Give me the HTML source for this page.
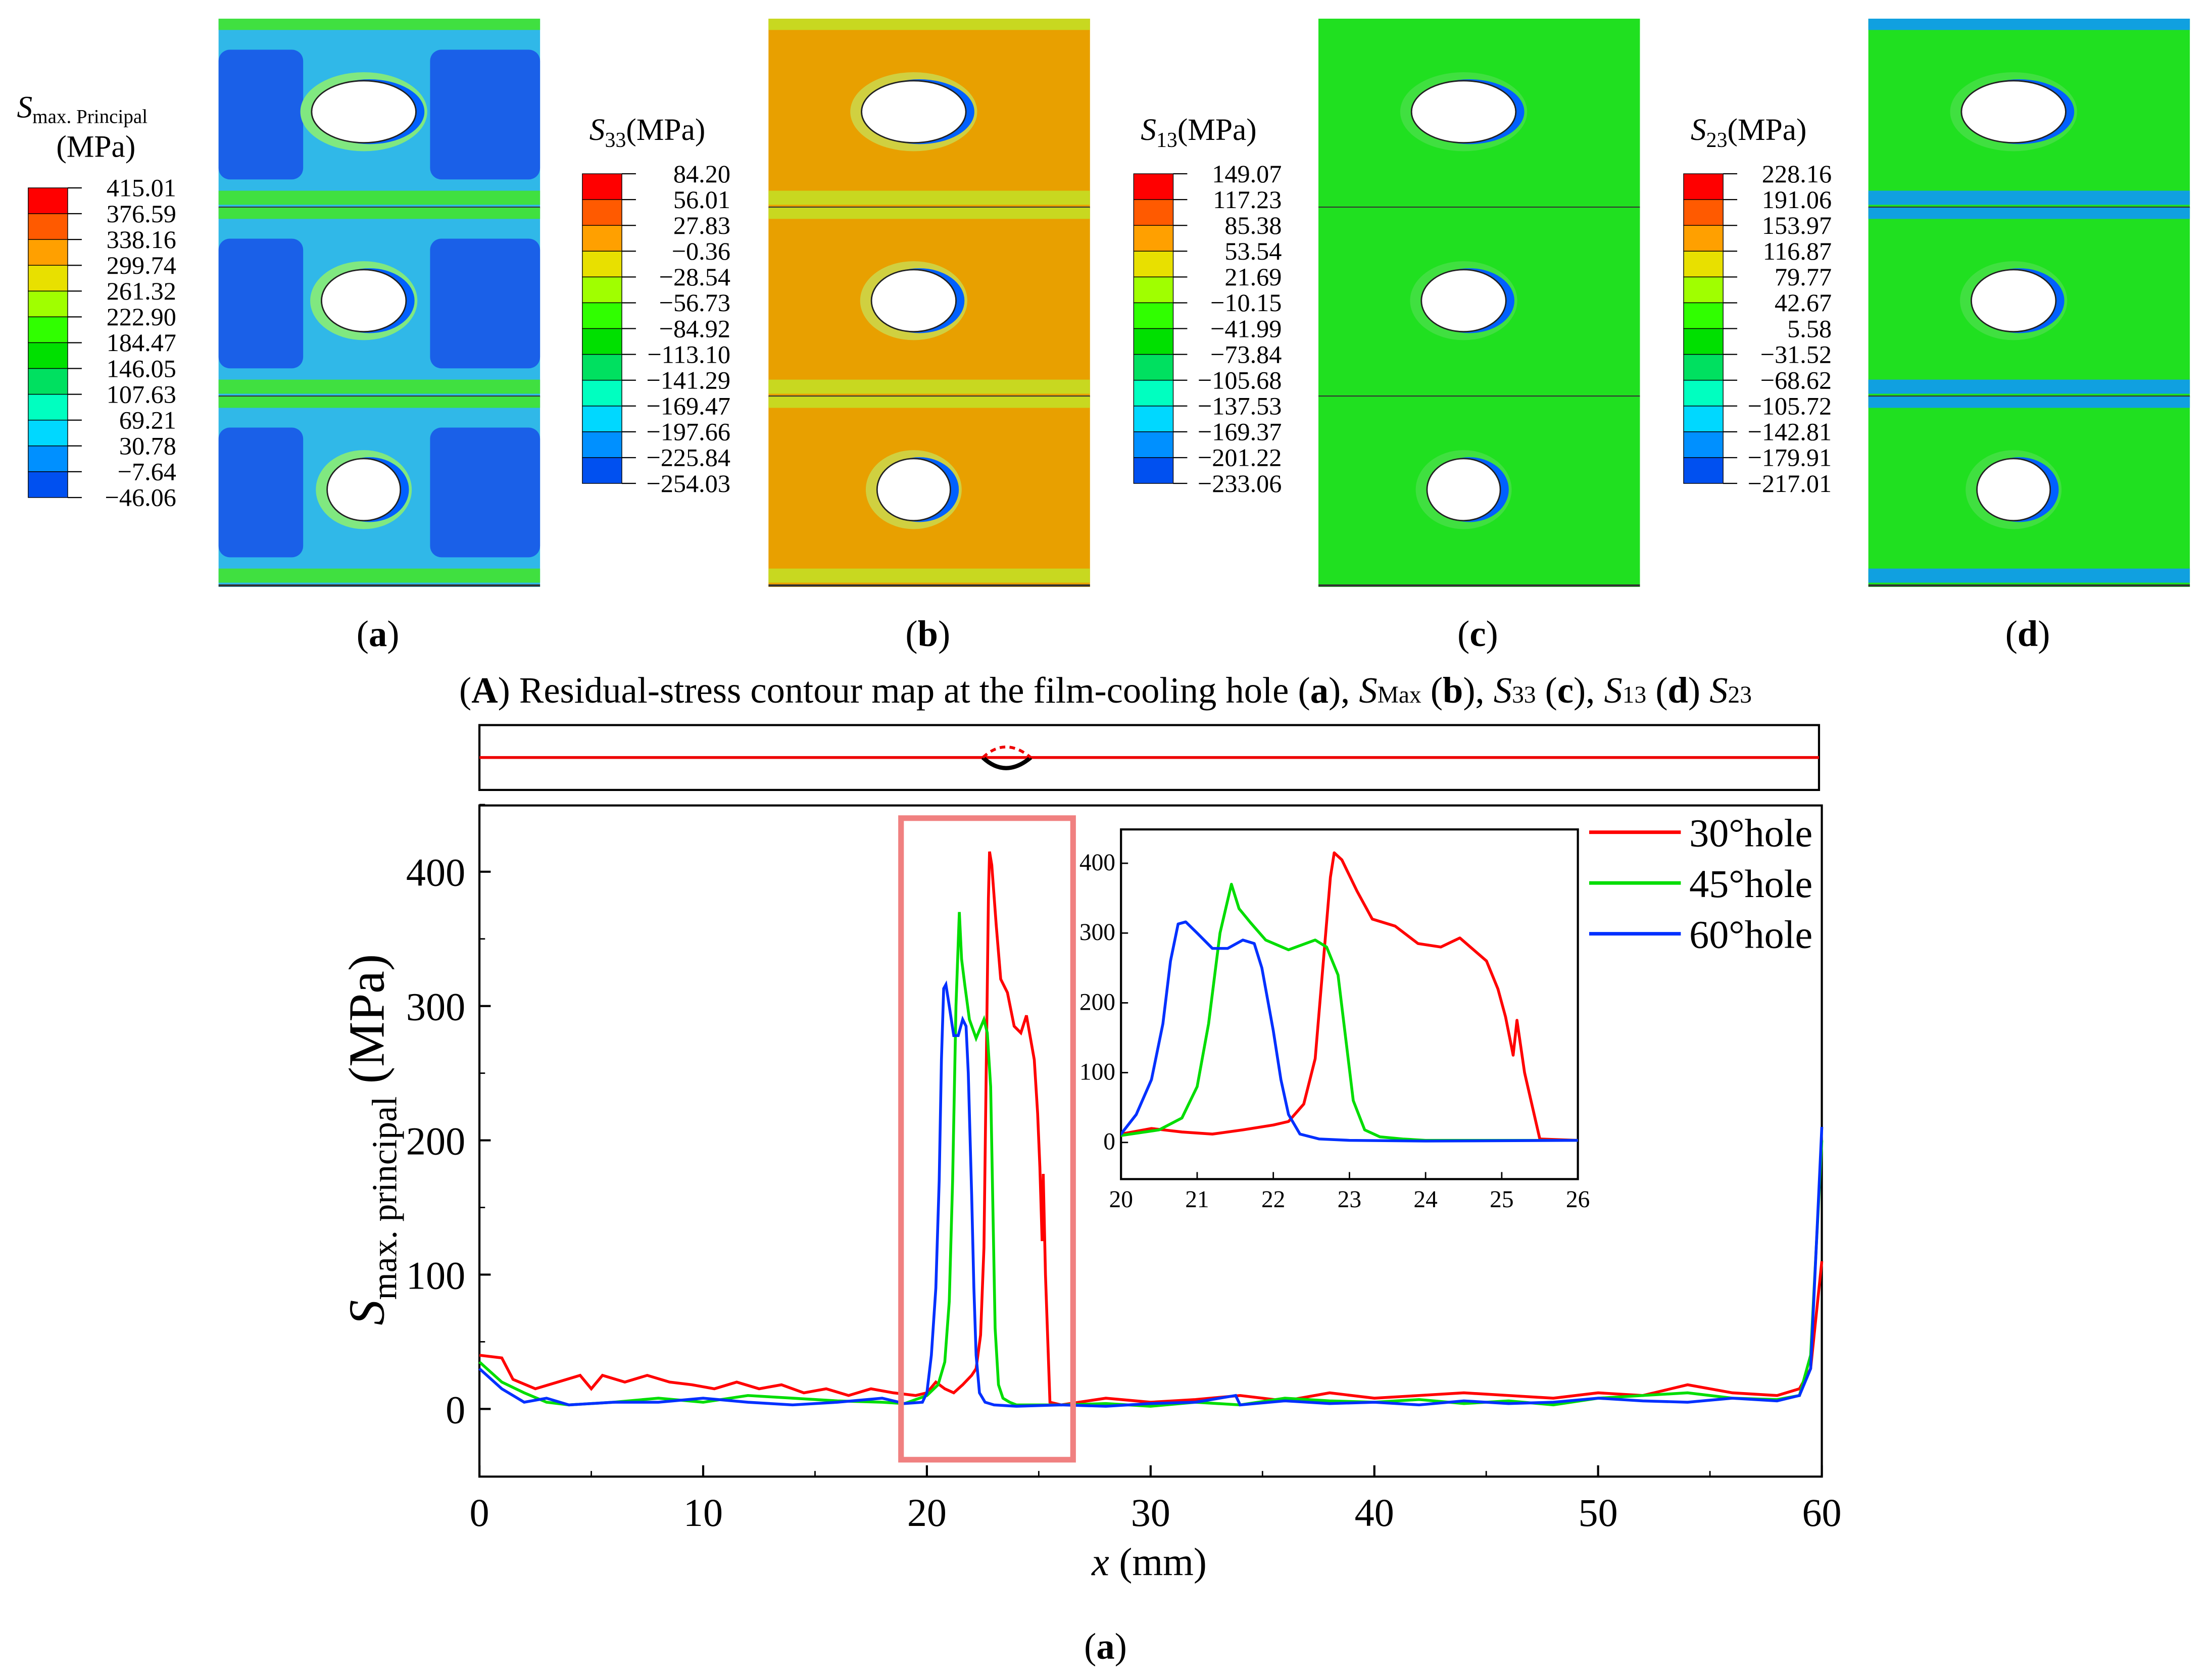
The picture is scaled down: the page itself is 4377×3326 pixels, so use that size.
<!DOCTYPE html>
<html><head><meta charset="utf-8"><style>
html,body{margin:0;padding:0;background:#fff}
svg{display:block}
text{font-family:"Liberation Serif",serif;fill:#000}
</style></head><body>
<svg id="root" width="4377" height="3326" viewBox="0 0 1568 1191" xmlns="http://www.w3.org/2000/svg">
<g id="contours"></g>
<g font-size="26" text-anchor="middle">
<text x="268" y="458">(<tspan font-weight="bold">a</tspan>)</text>
<text x="658" y="458">(<tspan font-weight="bold">b</tspan>)</text>
<text x="1048" y="458">(<tspan font-weight="bold">c</tspan>)</text>
<text x="1438" y="458">(<tspan font-weight="bold">d</tspan>)</text>
</g>
<text x="784" y="498" font-size="26" text-anchor="middle">(<tspan font-weight="bold">A</tspan>) Residual-stress contour map at the film-cooling hole (<tspan font-weight="bold">a</tspan>), <tspan font-style="italic">S</tspan><tspan font-size="17">Max</tspan> (<tspan font-weight="bold">b</tspan>), <tspan font-style="italic">S</tspan><tspan font-size="17">33</tspan> (<tspan font-weight="bold">c</tspan>), <tspan font-style="italic">S</tspan><tspan font-size="17">13</tspan> (<tspan font-weight="bold">d</tspan>) <tspan font-style="italic">S</tspan><tspan font-size="17">23</tspan></text>
<g>
<rect x="340" y="514" width="950" height="46" fill="none" stroke="#000" stroke-width="1.5"/>
<line x1="340" y1="537" x2="1290" y2="537" stroke="#e00" stroke-width="2"/>
<path d="M697 537 Q713 552 731 537" fill="none" stroke="#000" stroke-width="3"/>
<path d="M697 537 Q713 522 731 537" fill="none" stroke="#e00" stroke-width="2" stroke-dasharray="4,3"/>
</g>
<g id="main"></g>
<g id="inset"></g>
<text x="784" y="1176" font-size="26" text-anchor="middle">(<tspan font-weight="bold">a</tspan>)</text>
</svg>
<script>
const NS='http://www.w3.org/2000/svg';
function mk(p,t,a){const e=document.createElementNS(NS,t);for(const k in a)e.setAttribute(k,a[k]);p.appendChild(e);return e;}

const legendA=['415.01','376.59','338.16','299.74','261.32','222.90','184.47','146.05','107.63','69.21','30.78','\u22127.64','\u221246.06'];
const legendB=['84.20','56.01','27.83','\u22120.36','\u221228.54','\u221256.73','\u221284.92','\u2212113.10','\u2212141.29','\u2212169.47','\u2212197.66','\u2212225.84','\u2212254.03'];
const legendC=['149.07','117.23','85.38','53.54','21.69','\u221210.15','\u221241.99','\u221273.84','\u2212105.68','\u2212137.53','\u2212169.37','\u2212201.22','\u2212233.06'];
const legendD=['228.16','191.06','153.97','116.87','79.77','42.67','5.58','\u221231.52','\u221268.62','\u2212105.72','\u2212142.81','\u2212179.91','\u2212217.01'];
const cmap=['#ff0000','#ff5a00','#ffa000','#e8e000','#a0ff00','#30ff00','#00e000','#00e060','#00ffc0','#00d8ff','#0090ff','#0050f0','#0000ff'];
const cg=document.getElementById('contours');
function legend(x0,y0,vals,name,title){
  const g=mk(cg,'g',{});
  
  
  const h=18.3;
  for(let i=0;i<12;i++){mk(g,'rect',{x:x0,y:y0+i*h,width:28,height:h,fill:cmap[i],stroke:'#000','stroke-width':0.5});}
  vals.forEach((v,i)=>{mk(g,'line',{x1:x0+28,y1:y0+i*h,x2:x0+38,y2:y0+i*h,stroke:'#000','stroke-width':0.8});
    const t=mk(g,'text',{x:x0+105,y:y0+i*h+6,'font-size':18,'text-anchor':'end'});t.textContent=v;});
  if(title==='max'){const tt=mk(g,'text',{x:x0-8,y:y0-50,'font-size':22});tt.innerHTML='<tspan font-style="italic">S</tspan><tspan font-size="14" dy="4">max. Principal</tspan>';
    const t2=mk(g,'text',{x:x0+48,y:y0-22,'font-size':22,'text-anchor':'middle'});t2.textContent='(MPa)';}
  else {const tt=mk(g,'text',{x:x0+5,y:y0-24,'font-size':22});tt.innerHTML='<tspan font-style="italic">S</tspan><tspan font-size="15" dy="5">'+title+'</tspan><tspan dy="-5">(MPa)</tspan>';}
}
legend(20,133,legendA,'legend-smax','max');
legend(413,123,legendB,'legend-s33','33');
legend(804,123,legendC,'legend-s13','13');
legend(1194,123,legendD,'legend-s23','23');

function panel(x,name,bg,dark,band,holeRing){
  const g=mk(cg,'g',{});
  
  
  mk(g,'rect',{x:x,y:13,width:228,height:403,fill:bg});
  const rows=[13,147,281];const hrx=[37,30,26];
  rows.forEach((ry,i)=>{
    if(dark){mk(g,'rect',{x:x,y:ry+22,width:60,height:92,fill:dark,rx:8});mk(g,'rect',{x:x+150,y:ry+22,width:78,height:92,fill:dark,rx:8});}
    mk(g,'rect',{x:x,y:ry,width:228,height:8,fill:band});
    mk(g,'rect',{x:x,y:ry+122,width:228,height:10,fill:band});
    mk(g,'line',{x1:x,y1:ry+134,x2:x+228,y2:ry+134,stroke:'#333','stroke-width':1.5});
    const cx=x+103,cy=ry+66;
    mk(g,'ellipse',{cx:cx,cy:cy,rx:hrx[i]+8,ry:28,fill:holeRing});
    mk(g,'ellipse',{cx:cx+4,cy:cy,rx:hrx[i]+2,ry:23,fill:'#0060ff'});
    mk(g,'ellipse',{cx:cx,cy:cy,rx:hrx[i],ry:22,fill:'#fff',stroke:'#222','stroke-width':1});
  });
}
panel(155,'contour-smax','#30b8e8','#1a60e8','#40e040','#80e880');
panel(545,'contour-s33','#e8a000',null,'#c8d820','#d0d040');
panel(935,'contour-s13','#20e020',null,'#20e020','#40e040');
panel(1325,'contour-s23','#20e020',null,'#10a0e0','#40e040');

const x30=[0,1,1.5,2.5,3.5,4.5,5,5.5,6.5,7.5,8.5,9.5,10.5,11.5,12.5,13.5,14.5,15.5,16.5,17.5,18.5,19.5,20,20.4,20.8,21.2,21.6,22,22.2,22.4,22.55,22.65,22.75,22.8,22.9,23.1,23.3,23.6,23.9,24.2,24.45,24.8,24.95,25.05,25.15,25.2,25.3,25.5,26,28,30,32,34,36,38,40,42,44,46,48,50,52,54,56,58,59,59.5,60];
const y30=[40,38,22,15,20,25,15,25,20,25,20,18,15,20,15,18,12,15,10,15,12,10,12,20,15,12,18,25,30,55,120,250,380,415,405,360,320,310,285,280,293,260,220,180,125,175,100,5,3,8,5,7,10,6,12,8,10,12,10,8,12,10,18,12,10,15,30,110];
const x45=[0,1,2,3,4,6,8,10,12,14,16,18,19,20,20.5,20.8,21,21.15,21.3,21.45,21.55,21.7,21.9,22.2,22.55,22.7,22.85,22.95,23.05,23.2,23.4,23.7,24,26,28,30,32,34,36,38,40,42,44,46,48,50,52,54,56,58,59,59.5,60];
const y45=[35,20,12,5,3,5,8,5,10,8,6,5,4,10,18,35,80,170,300,370,335,315,290,276,290,280,240,150,60,18,8,5,3,3,4,2,5,3,8,6,5,7,4,6,3,8,10,12,8,7,10,40,200];
const x60=[0,1,2,3,4,6,8,10,12,14,16,18,19,19.8,20,20.2,20.4,20.55,20.65,20.75,20.85,21,21.2,21.4,21.6,21.75,21.85,22,22.1,22.2,22.35,22.6,23,24,26,28,30,32,33.8,34,36,38,40,42,44,46,48,50,52,54,56,58,59,59.5,60];
const y60=[30,15,5,8,3,5,5,8,5,3,5,8,4,5,12,40,90,170,260,313,316,300,278,278,290,285,250,160,90,40,12,5,3,2,3,2,4,5,10,3,6,4,5,3,6,4,5,8,6,5,8,6,10,30,210];
const xTicks=['0','10','20','30','40','50','60'];
const yTicks=['0','100','200','300','400'];
const insetXTicks=['20','21','22','23','24','25','26'];
const insetYTicks=['0','100','200','300','400'];
const seriesNames=['30°hole','45°hole','60°hole'];
const colors=['#ff0000','#00dd00','#0030ff'];

const M={l:340,r:1292,t:571,b:1047,x0:0,x1:60};
const mx=v=>M.l+(v-M.x0)/(M.x1-M.x0)*(M.r-M.l);
const my=v=>999-(v)*0.9525;
const mg=document.getElementById('main');
mk(mg,'rect',{x:M.l,y:M.t,width:M.r-M.l,height:M.b-M.t,fill:'none',stroke:'#000','stroke-width':1.5});
xTicks.forEach(t=>{const v=+t,X=mx(v);
  const l=mk(mg,'line',{x1:X,y1:M.b,x2:X,y2:M.b-8,stroke:'#000','stroke-width':1.5});
  
  if(v<60)mk(mg,'line',{x1:mx(v+5),y1:M.b,x2:mx(v+5),y2:M.b-4,stroke:'#000'});
  const tx=mk(mg,'text',{x:X,y:1082,'font-size':28,'text-anchor':'middle'});tx.textContent=t;
  });
yTicks.forEach(t=>{const v=+t,Y=my(v);
  mk(mg,'line',{x1:M.l,y1:Y,x2:M.l+8,y2:Y,stroke:'#000','stroke-width':1.5});
  mk(mg,'line',{x1:M.l,y1:my(v+50),x2:M.l+4,y2:my(v+50),stroke:'#000'});
  const tx=mk(mg,'text',{x:330,y:Y+10,'font-size':28,'text-anchor':'end'});tx.textContent=t;
  });
const xt=mk(mg,'text',{x:815,y:1117,'font-size':28,'text-anchor':'middle'});
xt.innerHTML='<tspan font-style="italic">x</tspan> (mm)';

const yt=mk(mg,'text',{x:0,y:0,'font-size':36,'text-anchor':'middle',transform:'translate(272,808) rotate(-90)'});
yt.innerHTML='<tspan font-style="italic">S</tspan><tspan font-size="25" dy="9">max. principal</tspan><tspan dy="-9"> (MPa)</tspan>';

const X=[x30,x45,x60],Y=[y30,y45,y60];
X.forEach((xs,s)=>{const p=mk(mg,'polyline',{points:xs.map((x,i)=>mx(x)+','+my(Y[s][i])).join(' '),fill:'none',stroke:colors[s],'stroke-width':2});
  });
const zr=mk(mg,'rect',{x:639,y:580,width:122,height:455,fill:'none',stroke:'#f08080','stroke-width':4});

seriesNames.forEach((n,i)=>{const yy=590+i*36;
  mk(mg,'line',{x1:1127,y1:yy,x2:1192,y2:yy,stroke:colors[i],'stroke-width':2.5});
  const t=mk(mg,'text',{x:1198,y:yy+10,'font-size':28});t.textContent=n;
  });

const I={l:795,r:1119,t:588,b:836};
const ix=v=>I.l+(v-20)/6*(I.r-I.l);
const iy=v=>810-v*0.495;
const ig=document.getElementById('inset');
mk(ig,'rect',{x:I.l,y:I.t,width:I.r-I.l,height:I.b-I.t,fill:'#fff',stroke:'#000','stroke-width':1.5});
const cp=mk(ig,'clipPath',{id:'ic'});mk(cp,'rect',{x:I.l,y:I.t,width:I.r-I.l,height:I.b-I.t});
insetXTicks.forEach(t=>{const v=+t,XX=ix(v);
  mk(ig,'line',{x1:XX,y1:I.b,x2:XX,y2:I.b-5,stroke:'#000'});
  const tx=mk(ig,'text',{x:XX,y:856,'font-size':17,'text-anchor':'middle'});tx.textContent=t;});
insetYTicks.forEach(t=>{const v=+t,YY=iy(v);
  mk(ig,'line',{x1:I.l,y1:YY,x2:I.l+5,y2:YY,stroke:'#000'});
  const tx=mk(ig,'text',{x:I.l-4,y:YY+5,'font-size':17,'text-anchor':'end'});tx.textContent=t;});
X.forEach((xs,s)=>{const p=mk(ig,'polyline',{points:xs.map((x,i)=>ix(x)+','+iy(Y[s][i])).join(' '),fill:'none',stroke:colors[s],'stroke-width':2,'stroke-linejoin':'round','clip-path':'url(#ic)'});
  });
</script>
</body></html>
